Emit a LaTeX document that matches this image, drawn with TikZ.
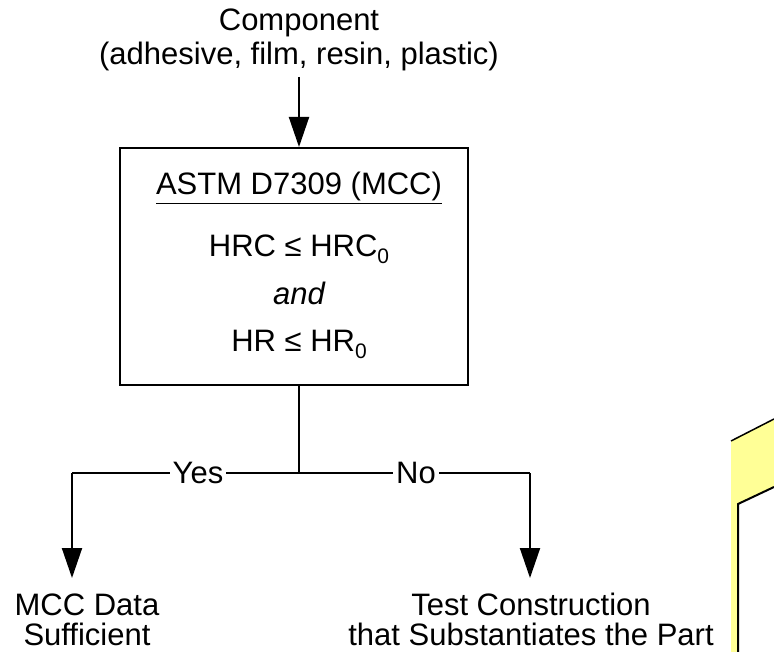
\documentclass[tikz,border=0pt]{standalone}
\usepackage{fontspec}
\setmainfont{Liberation Sans}
\usetikzlibrary{arrows.meta}
\definecolor{pale}{RGB}{255,255,150}
\begin{document}
\begin{tikzpicture}[x=1pt,y=-1pt,
  lbl/.style={inner sep=0pt, anchor=base, font=\fontsize{31}{37}\selectfont},
  tag/.style={inner xsep=3pt, inner ysep=0pt, fill=white, font=\fontsize{31}{37}\selectfont},
  conn/.style={line width=2pt, -{Triangle[width=20pt,length=30pt]}},
  wire/.style={line width=2pt}]
\useasboundingbox (0,0) rectangle (774,652);
% top input
\node[lbl] (comp) at (299,31) {Component};
\node[lbl] (comp2) at (299,65) {(adhesive, film, resin, plastic)};
\coordinate (intop) at (299,77);
% box
\node[draw, line width=2pt, minimum width=348pt, minimum height=237pt, inner sep=0pt, anchor=north] (box) at (294,147) {};
\coordinate (boxin) at (299,147);
\coordinate (boxout) at (299,384);
\draw[conn] (intop) -- (boxin);
\node[lbl] (t1) at (299,195) {\underline{ASTM D7309 (MCC)}};
\node[lbl] (t2) at (299,257) {HRC ≤ HRC\raisebox{-0.22em}{\fontsize{21}{24}\selectfont 0}};
\node[lbl] (t3) at (299,305) {\itshape and};
\node[lbl] (t4) at (299,352) {HR ≤ HR\raisebox{-0.22em}{\fontsize{21}{24}\selectfont 0}};
% decision
\coordinate (j) at (299,473);
\coordinate (yl) at (72,473);
\coordinate (nr) at (530,473);
\node[tag] (yes) at (198,473) {Yes};
\node[tag] (no) at (416,473) {No};
\draw[wire] (boxout) -- (j);
\draw[wire] (yl) -- (yes) -- (j) -- (no) -- (nr);
\coordinate (ya) at (72,578);
\coordinate (na) at (530,578);
\draw[conn] (yl) -- (ya);
\draw[conn] (nr) -- (na);
% outputs
\node[lbl] (m1) at (87,615) {MCC Data};
\node[lbl] (m2) at (87,645) {Sufficient};
\node[lbl] (r1) at (531,615) {Test Construction};
\node[lbl] (r2) at (531,645) {that Substantiates the Part};
% yellow sliver
\fill[pale] (731,441) -- (774,419) -- (774,652) -- (731,652) -- cycle;
\fill[white] (738,504) -- (774,487) -- (774,652) -- (738,652) -- cycle;
\draw[line width=1.5pt] (731,441) -- (774,419);
\draw[line width=2pt] (738,652) -- (738,504) -- (774,487);
\end{tikzpicture}
\end{document}
